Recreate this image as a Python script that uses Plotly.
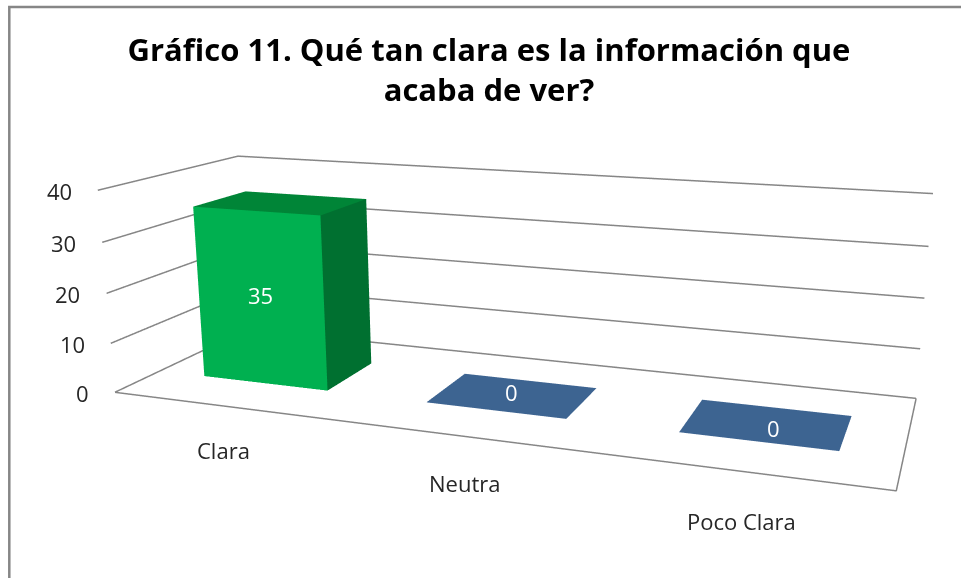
import plotly.graph_objects as go

# === DATOS ===
categorias = ['Clara', 'Neutra', 'Poco Clara']
valores = [35, 0, 0]
ticks_z = [0, 10, 20, 30, 40]
titulo = 'Gráfico 11. Qué tan clara es la información que<br>acaba de ver?'

# === ESTILO ===
COLOR_LINEA = '#868686'
COLORES_BARRA = [
    {'frente': '#00B050', 'lado': '#007030', 'tapa': '#008537'},
    {'frente': '#3D6491', 'lado': '#2D4B6D', 'tapa': '#3D6491'},
    {'frente': '#3D6491', 'lado': '#2D4B6D', 'tapa': '#3D6491'},
]
FUENTE = 'Open Sans'
ANCHO_BARRA = 0.57
Y0_BARRA, Y1_BARRA = 0.305, 0.70

# The lens of the original is off-centre, so the scene is taller than the
# window and the page is shifted up to bring its centre to the right height
ALTO = 1084
ANCHO = 1042
DESPLAZA = 221

# desplazamientos en pixeles de las etiquetas
shift_cat = [(0, -44), (0, -47), (0, -50)]
shift_val = [(0, 4), (-1, 3), (7, -4)]

fig = go.Figure()


def linea(xs, ys, zs):
    fig.add_trace(go.Scatter3d(x=xs, y=ys, z=zs, mode='lines', hoverinfo='skip', showlegend=False,
                               line=dict(color=COLOR_LINEA, width=3)))


# === PAREDES Y PISO ===
for t in ticks_z:
    linea([0, 0, 3], [0, 1, 1], [t, t, t])
linea([3, 3, 0], [1, 0, 0], [0, 0, 0])

# === BARRAS ===
for i, v in enumerate(valores):
    x0, x1 = i + 0.5 - ANCHO_BARRA / 2, i + 0.5 + ANCHO_BARRA / 2
    y0, y1 = Y0_BARRA, Y1_BARRA
    xs = [x0, x1, x1, x0, x0, x1, x1, x0]
    ys = [y0, y0, y1, y1, y0, y0, y1, y1]
    zs = [0, 0, 0, 0, v, v, v, v]
    c = COLORES_BARRA[i]
    tri = [(4, 5, 6, c['tapa']), (4, 6, 7, c['tapa'])]
    if v > 0:
        tri += [(0, 1, 5, c['frente']), (0, 5, 4, c['frente']), (1, 2, 6, c['lado']), (1, 6, 5, c['lado'])]
    fig.add_trace(go.Mesh3d(x=xs, y=ys, z=zs,
                            i=[a[0] for a in tri], j=[a[1] for a in tri], k=[a[2] for a in tri],
                            facecolor=[a[3] for a in tri], flatshading=True, hoverinfo='skip', showlegend=False,
                            lighting=dict(ambient=1, diffuse=0, specular=0, roughness=1, fresnel=0)))

# === ETIQUETAS ===
anotaciones = []
for t in ticks_z:
    anotaciones.append(dict(x=0, y=0, z=t, text=str(t), showarrow=False, xanchor='right', xshift=-24, yshift=-1,
                            font=dict(family=FUENTE, size=22, color='#262626')))
for i, cat in enumerate(categorias):
    anotaciones.append(dict(x=i + 0.5, y=0, z=0, text=cat, showarrow=False,
                            xshift=shift_cat[i][0], yshift=shift_cat[i][1],
                            font=dict(family=FUENTE, size=22, color='#262626')))
for i, v in enumerate(valores):
    anotaciones.append(dict(x=i + 0.5, y=Y0_BARRA if v > 0 else (Y0_BARRA + Y1_BARRA) / 2, z=v / 2, text=str(v),
                            showarrow=False, xshift=shift_val[i][0], yshift=shift_val[i][1],
                            font=dict(family=FUENTE, size=22, color='white')))

eje_oculto = dict(visible=False, showspikes=False)
fig.update_layout(
    width=ANCHO,
    height=ALTO,
    margin=dict(l=0, r=0, t=0, b=0),
    paper_bgcolor='white',
    showlegend=False,
    title=dict(text=titulo, x=489 / ANCHO, xanchor='center', y=1 - (DESPLAZA + 61) / ALTO, yanchor='top',
               font=dict(family=FUENTE, size=31, color='black', weight='bold')),
    scene=dict(
        domain=dict(x=[0, 1], y=[0, 1]),
        xaxis=dict(range=[0, 3], **eje_oculto),
        yaxis=dict(range=[0, 1], **eje_oculto),
        zaxis=dict(range=[0, 40], **eje_oculto),
        aspectmode='manual',
        aspectratio=dict(x=1.9626, y=0.6532, z=0.5295),
        camera=dict(eye=dict(x=1.1073, y=-3.0136, z=0.7985),
                    center=dict(x=0.0115, y=0.0316, z=-0.0731),
                    up=dict(x=-0.0092, y=0.0233, z=1),
                    projection=dict(type='perspective')),
        annotations=anotaciones,
    ),
    shapes=[dict(type='rect', xref='paper', yref='paper', x0=9.3 / ANCHO, x1=1.0, y0=0, y1=1 - (DESPLAZA + 7) / ALTO,
                 line=dict(color=COLOR_LINEA, width=2.5))],
)

ajuste = ("var gd=document.getElementById('{plot_id}');gd.style.marginTop='-%dpx';"
          "document.body.style.margin='0';document.body.style.overflow='hidden';" % DESPLAZA)
fig.write_html("out.html", post_script=ajuste)
